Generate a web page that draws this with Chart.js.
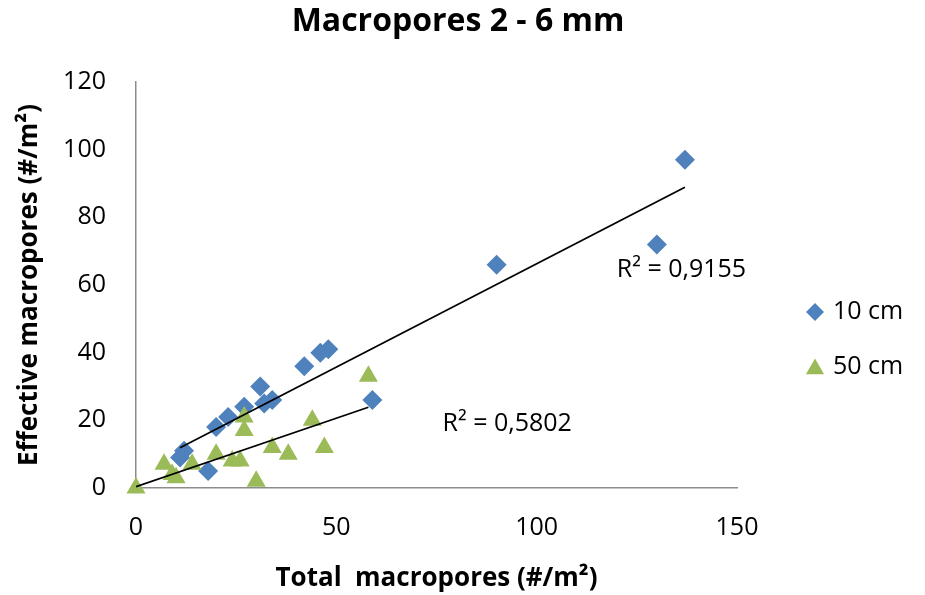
<!DOCTYPE html>
<html>
<head>
<meta charset="utf-8">
<script src="https://cdn.jsdelivr.net/npm/chart.js@4"></script>
<style>
  html, body { margin: 0; padding: 0; background: #fff; }
  #wrap { width: 925px; height: 595px; }
</style>
</head>
<body>
<div id="wrap"><canvas id="scatterChart" width="925" height="595"></canvas></div>
<script>
const FONT = "'Open Sans', Carlito, Lato, sans-serif";

// 10 cm depth: total vs effective macropores
const total10 = [11, 12, 18, 20, 23, 27, 31, 32, 34, 42, 46, 48, 59, 90, 130, 137];
const effective10 = [9, 11, 5, 18, 21, 24, 30, 25, 26, 36, 40, 41, 26, 66, 72, 97];

// 50 cm depth
const total50 = [0, 7, 9, 10, 14, 20, 24, 26, 27, 27, 30, 34, 38, 44, 47, 58];
const effective50 = [0, 7, 4, 3, 7, 10, 8, 8, 21, 17, 2, 12, 10, 20, 12, 33];

const seriesNames = ["10 cm", "50 cm"];
const r2Labels = ["R² = 0,9155", "R² = 0,5802"];
const r2Anchors = [[120, 64.5], [76.5, 19]]; // data coords where the label starts

const xTicks = [0, 50, 100, 150];
const yTicks = [0, 20, 40, 60, 80, 100, 120];

function toPoints(xs, ys) {
  return xs.map((x, i) => ({ x: x, y: ys[i] }));
}

// least squares line, like Excel's linear trendline
function trend(xs, ys) {
  const n = xs.length;
  const mx = xs.reduce((a, b) => a + b, 0) / n;
  const my = ys.reduce((a, b) => a + b, 0) / n;
  let sxy = 0, sxx = 0;
  for (let i = 0; i < n; i++) {
    sxy += (xs[i] - mx) * (ys[i] - my);
    sxx += (xs[i] - mx) * (xs[i] - mx);
  }
  const b = sxy / sxx;
  const a = my - b * mx;
  const x0 = Math.min(...xs), x1 = Math.max(...xs);
  return [{ x: x0, y: a + b * x0 }, { x: x1, y: a + b * x1 }];
}

const blue = "#4F81BD";
const green = "#9BBB59";

// title, legend and R² labels
const extras = {
  id: "extras",
  afterDraw(chart) {
    const c = chart.ctx;
    const xs = chart.scales.x, ys = chart.scales.y;
    c.save();
    c.fillStyle = "#000";
    c.textBaseline = "middle";

    c.font = "bold 32px " + FONT;
    c.textAlign = "center";
    c.fillText("Macropores 2 - 6 mm", 458, 22);

    c.font = "25px " + FONT;
    c.textAlign = "left";
    r2Labels.forEach((t, i) => {
      c.fillText(t, xs.getPixelForValue(r2Anchors[i][0]), ys.getPixelForValue(r2Anchors[i][1]));
    });

    // legend
    const lx = 815;
    const items = [
      { y: 312, style: "rectRot", color: blue, r: 9 },
      { y: 367, style: "triangle", color: green, r: 10.5 },
    ];
    items.forEach((it, i) => {
      c.fillStyle = it.color;
      c.strokeStyle = it.color;
      Chart.helpers.drawPoint(c, { pointStyle: it.style, radius: it.r, borderWidth: 0 }, lx, it.y + (it.style === "triangle" ? 2 : 0));
      c.fillStyle = "#000";
      c.fillText(seriesNames[i], lx + 18, it.y);
    });
    c.restore();
  },
};

const ctx = document.getElementById("scatterChart").getContext("2d");
new Chart(ctx, {
  type: "scatter",
  data: {
    datasets: [
      {
        label: "trend 10",
        data: trend(total10, effective10),
        showLine: true,
        borderColor: "#000",
        borderWidth: 1.8,
        pointRadius: 0,
      },
      {
        label: "trend 50",
        data: trend(total50, effective50),
        showLine: true,
        borderColor: "#000",
        borderWidth: 1.8,
        pointRadius: 0,
      },
      {
        label: seriesNames[1],
        data: toPoints(total50, effective50),
        pointStyle: "triangle",
        pointRadius: 11,
        backgroundColor: green,
        borderColor: green,
        borderWidth: 0,
        clip: false,
      },
      {
        label: seriesNames[0],
        data: toPoints(total10, effective10),
        pointStyle: "rectRot",
        pointRadius: 10,
        backgroundColor: blue,
        borderColor: blue,
        borderWidth: 0,
        clip: false,
      },
    ],
  },
  options: {
    responsive: false,
    animation: false,
    layout: { padding: { top: 82, right: 188, bottom: 0, left: 0 } },
    plugins: {
      legend: { display: false },
      tooltip: { enabled: false },
    },
    scales: {
      x: {
        type: "linear",
        min: 0,
        max: 150,
        afterBuildTicks: (s) => { s.ticks = xTicks.map((v) => ({ value: v })); },
        afterFit: (s) => { s.height = 107; },
        grid: { display: false, drawTicks: false },
        border: { display: true, color: "#8c8c8c", width: 1.5 },
        ticks: { color: "#000", padding: 25, font: { family: FONT, size: 25 } },
        title: {
          display: true,
          text: "Total  macropores (#/m²)",
          color: "#000",
          padding: { top: 0, bottom: 1 },
          font: { family: FONT, size: 26, weight: "bold" },
        },
      },
      y: {
        type: "linear",
        min: 0,
        max: 120,
        afterBuildTicks: (s) => { s.ticks = yTicks.map((v) => ({ value: v })); },
        afterFit: (s) => { s.width = 136; },
        grid: { display: false, drawTicks: false },
        border: { display: true, color: "#8c8c8c", width: 1.5 },
        ticks: { color: "#000", padding: 30, font: { family: FONT, size: 25 } },
        title: {
          display: true,
          text: "Effective macropores (#/m²)",
          color: "#000",
          padding: { top: 14, bottom: 0 },
          font: { family: FONT, size: 26, weight: "bold" },
        },
      },
    },
  },
  plugins: [extras],
});
</script>
</body>
</html>
